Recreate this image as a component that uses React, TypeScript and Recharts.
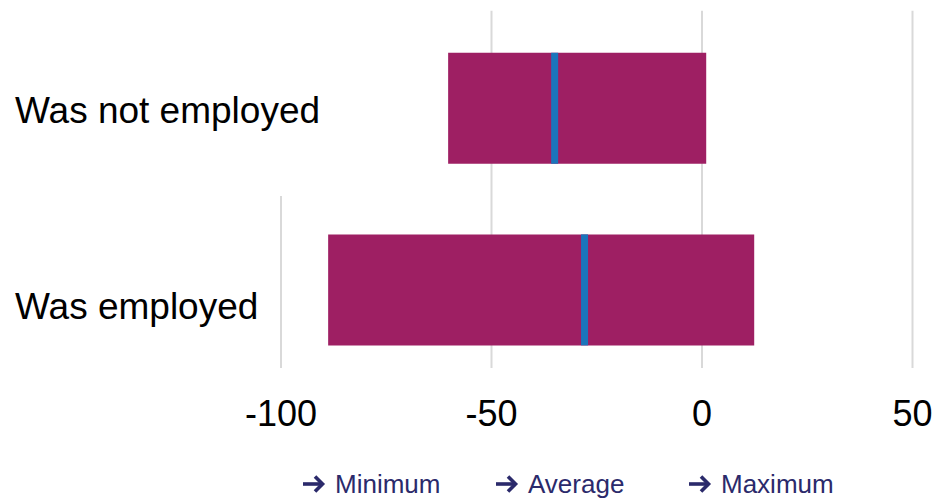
import React from "react";
import {
  ComposedChart,
  Bar,
  XAxis,
  YAxis,
  CartesianGrid,
  Legend,
} from "recharts";

const categories = ["Was not employed", "Was employed"];
const minimums = [-60.3, -88.8];
const maximums = [1.0, 12.4];
const averages = [-35.0, -27.9];
const xTicks = [-100, -50, 0, 50];
const legendLabels = ["Minimum", "Average", "Maximum"];

const FONT = '"Liberation Sans", Arial, sans-serif';
const BAR_COLOR = "#9e1f63";
const AVG_COLOR = "#1b75bb";
const GRID_COLOR = "#d9d9d9";
const LEGEND_COLOR = "#2b2a6b";
const BAR_SIZE = 111;

const data = categories.map((name, i) => ({
  name,
  range: [minimums[i], maximums[i]],
  avg: averages[i],
}));

// label offsets so the category text sits where the original has it
const labelShift = [1, 16];

function CategoryTick(props: any) {
  const { y, payload, index } = props;
  return (
    <text
      x={15}
      y={y + labelShift[index]}
      dy="0.355em"
      textAnchor="start"
      fontFamily={FONT}
      fontSize={37}
      fill="#000"
    >
      {payload.value}
    </text>
  );
}

function ValueTick(props: any) {
  const { x, y, payload } = props;
  return (
    <text
      x={x}
      y={y + 45}
      textAnchor="middle"
      fontFamily={FONT}
      fontSize={36}
      fill="#000"
    >
      {payload.value}
    </text>
  );
}

// the average is drawn as a thin marker at the end of a bar that runs from 0 to avg
function AvgMarker(props: any) {
  const { x, y, width, height } = props;
  const end = x + width;
  return <rect x={end - 3.5} y={y} width={7} height={height} fill={AVG_COLOR} />;
}

function GridLine(props: any) {
  const { x1, x2, y1, y2, index } = props;
  const top = index === 0 ? y2 - 185 : y1 - 7;
  return (
    <line
      key={`g-${index}`}
      x1={x1}
      x2={x2}
      y1={top}
      y2={y2 - 13}
      stroke={GRID_COLOR}
      strokeWidth={2}
    />
  );
}

function ArrowIcon() {
  return (
    <svg width={24} height={20} viewBox="0 0 24 20" style={{ marginRight: 9 }}>
      <line x1={1} y1={10} x2={20} y2={10} stroke={LEGEND_COLOR} strokeWidth={3.6} />
      <polyline
        points="13,2.5 20.5,10 13,17.5"
        fill="none"
        stroke={LEGEND_COLOR}
        strokeWidth={3.6}
      />
    </svg>
  );
}

function ArrowLegend() {
  return (
    <div
      style={{
        display: "flex",
        height: 30,
        paddingLeft: 302,
        alignItems: "center",
        fontFamily: FONT,
        color: LEGEND_COLOR,
      }}
    >
      {legendLabels.map((label) => (
        <div
          key={label}
          style={{ width: 193, display: "flex", alignItems: "center", whiteSpace: "nowrap" }}
        >
          <ArrowIcon />
          <span style={{ fontSize: 26 }}>{label}</span>
        </div>
      ))}
    </div>
  );
}

export default function App() {
  return (
    <div style={{ position: "absolute", left: 0, top: 0, width: 952, height: 499, background: "#fff" }}>
      <ComposedChart
        width={952}
        height={499}
        data={data}
        layout="vertical"
        barGap={-BAR_SIZE}
        margin={{ top: 17.75, right: 39.5, bottom: 0, left: 0 }}
      >
        <CartesianGrid horizontal={false} vertical={GridLine} />
        <XAxis
          type="number"
          domain={[-100, 50]}
          ticks={xTicks}
          axisLine={false}
          tickLine={false}
          tickSize={0}
          tickMargin={0}
          height={88}
          tick={<ValueTick />}
          allowDataOverflow
        />
        <YAxis
          type="category"
          dataKey="name"
          width={281}
          axisLine={false}
          tickLine={false}
          tick={<CategoryTick />}
        />
        <Legend verticalAlign="bottom" height={30} content={<ArrowLegend />} />
        <Bar
          dataKey="range"
          fill={BAR_COLOR}
          barSize={BAR_SIZE}
          isAnimationActive={false}
        />
        <Bar
          dataKey="avg"
          fill={AVG_COLOR}
          barSize={BAR_SIZE}
          shape={<AvgMarker />}
          isAnimationActive={false}
        />
      </ComposedChart>
    </div>
  );
}
